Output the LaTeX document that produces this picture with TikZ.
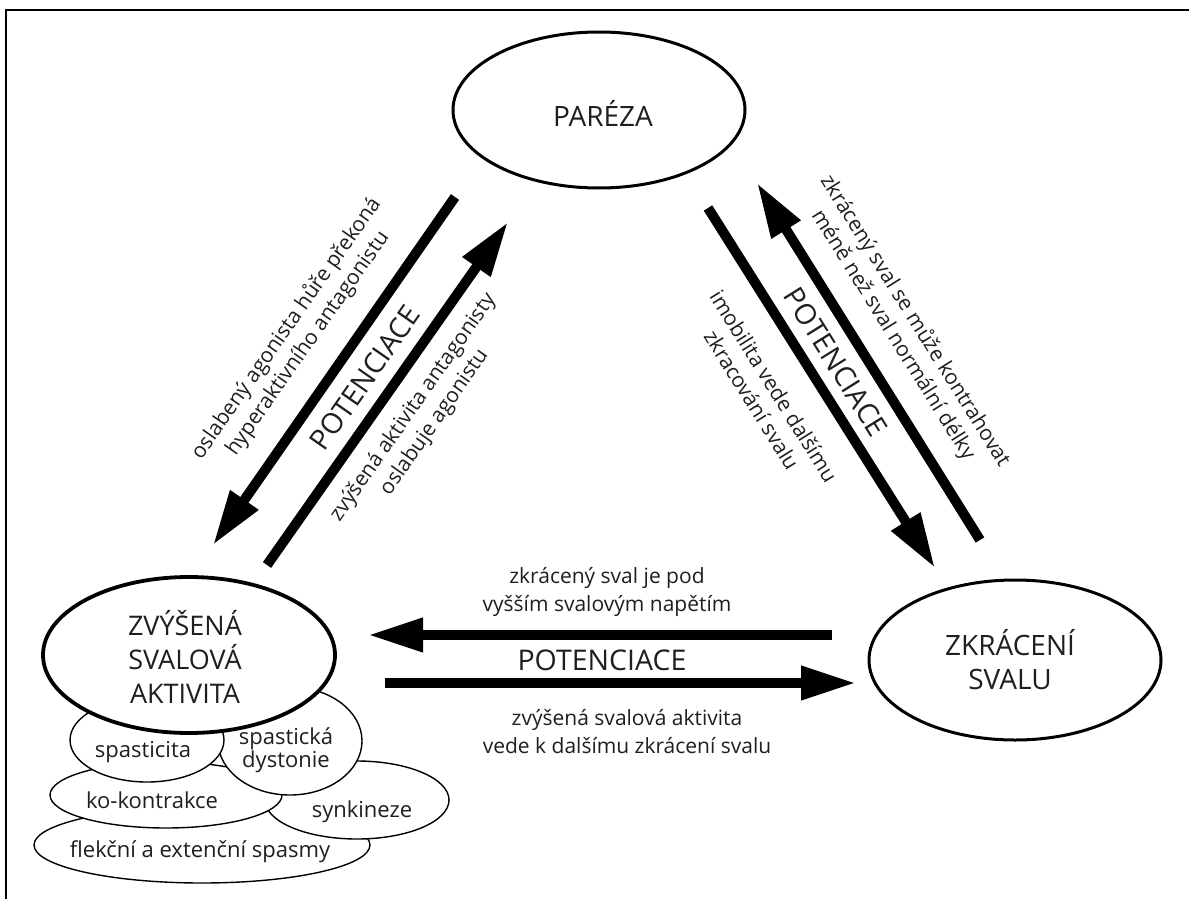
\documentclass[tikz,border=0pt]{standalone}
\usepackage{fontspec}
\setmainfont{Open Sans}
\usetikzlibrary{shapes.geometric,arrows.meta}
\begin{document}
\begin{tikzpicture}[x=1pt,y=-1pt,
  bigell/.style={ellipse,draw,fill=white,line width=3pt,inner sep=0pt},
  smallell/.style={ellipse,draw,fill=white,line width=1.4pt,inner sep=0pt},
  bigtxt/.style={font=\fontsize{28}{34}\selectfont,align=center,inner sep=0pt,text=black!88},
  lbl/.style={font=\fontsize{21}{26}\selectfont,align=center,inner sep=0pt,text=black!88},
  hlbl/.style={font=\fontsize{21}{28}\selectfont,align=center,inner sep=0pt,text=black!88},
  pot/.style={font=\fontsize{28.5}{32}\selectfont,inner sep=0pt,text=black!88},
  smalltxt/.style={font=\fontsize{22}{23}\selectfont,align=center,inner sep=0pt,text=black!88},
  fat/.style={line width=10pt,-{Triangle[length=55pt,width=32pt]}}
]
\useasboundingbox (0,0) rectangle (1189,899);
\fill[white] (0,0) rectangle (1189,899);
\draw[line width=2.5pt] (1189,10) -- (6,10) -- (6,899);

% small ellipses (bottom to top)
\node[smallell,minimum width=336pt,minimum height=76pt] (flek) at (202,845) {};
\node[smallell,minimum width=184pt,minimum height=78pt] (syn) at (357,800) {};
\node[smallell,minimum width=232pt,minimum height=66pt] (ko) at (166,795) {};
\node[smallell,minimum width=144pt,minimum height=108pt] (dys) at (290,741) {};
\node[smallell,minimum width=154pt,minimum height=84pt] (spa) at (147,740) {};

% main ellipses
\node[bigell,minimum width=292pt,minimum height=156pt] (par) at (599,110) {};
\node[bigell,line width=3.8pt,minimum width=292pt,minimum height=156pt] (zvy) at (189,655) {};
\node[bigell,minimum width=292pt,minimum height=160pt] (zkr) at (1015,660) {};

\node[bigtxt] (tpar) at (603,113) {PARÉZA};
\node[bigtxt,font=\fontsize{27}{34}\selectfont] (tzvy) at (185,657) {ZVÝŠENÁ\\SVALOVÁ\\AKTIVITA};
\node[bigtxt] (tzkr) at (1010,660) {ZKRÁCENÍ\\SVALU};

\node[smalltxt] (tspa) at (143,752) {spasticita};
\node[smalltxt] (tdys) at (286,750) {spastická\\dystonie};
\node[smalltxt] (tko) at (152,800) {ko-kontrakce};
\node[smalltxt] (tsyn) at (362,812) {synkineze};
\node[smalltxt] (tflek) at (200,852) {flekční a extenční spasmy};

% arrow end points
\coordinate (a1s) at (455,197); \coordinate (a1e) at (213,545);
\coordinate (a2s) at (267,565); \coordinate (a2e) at (508,222);
\coordinate (a3s) at (708,208); \coordinate (a3e) at (935,568);
\coordinate (a4s) at (980,540); \coordinate (a4e) at (757,183);
\coordinate (a5s) at (832,635); \coordinate (a5e) at (368,635);
\coordinate (a6s) at (385,683); \coordinate (a6e) at (856,683);

\draw[fat] (a1s) -- (a1e);
\draw[fat] (a2s) -- (a2e);
\draw[fat] (a3s) -- (a3e);
\draw[fat] (a4s) -- (a4e);
\draw[fat] (a5s) -- (a5e);
\draw[fat] (a6s) -- (a6e);

% labels
\node[lbl,rotate=55] (l1) at (297,336) {oslabený agonista hůře překoná\\hyperaktivního antagonistu};
\node[pot,rotate=55] (lp) at (365,378) {POTENCIACE};
\node[lbl,rotate=55] (l2) at (424,415) {zvýšená aktivita antagonisty\\oslabuje agonistu};

\node[lbl,rotate=-58] (r1) at (763,393) {imobilita vede dalšímu\\zkracování svalu};
\node[pot,rotate=-58] (rp) at (836,362) {POTENCIACE};
\node[lbl,rotate=-58] (r2) at (904,328) {zkrácený sval se může kontrahovat\\méně než sval normální délky};

\node[hlbl] (h1) at (607,592) {zkrácený sval je pod\\vyšším svalovým napětím};
\node[pot] (hp) at (602,660) {POTENCIACE};
\node[hlbl] (h2) at (627,732) {zvýšená svalová aktivita\\vede k dalšímu zkrácení svalu};
\end{tikzpicture}
\end{document}
